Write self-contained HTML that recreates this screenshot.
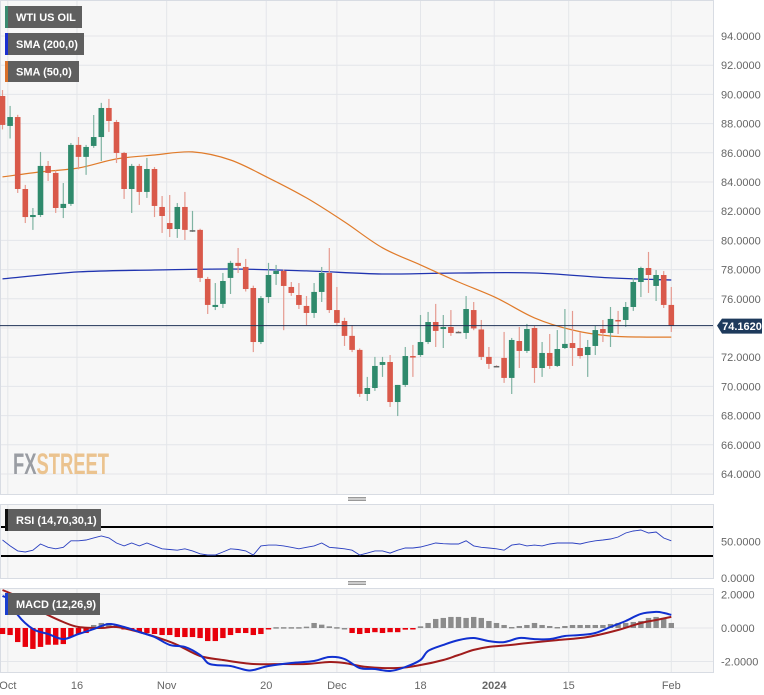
<!DOCTYPE html>
<html><head><meta charset="utf-8">
<style>
html,body{margin:0;padding:0;background:#fff;width:764px;height:695px;overflow:hidden}
svg{display:block;font-family:"Liberation Sans",sans-serif}
</style></head>
<body>
<svg id="chart" width="764" height="695" viewBox="0 0 764 695"></svg>
<script>
// ---- data ----
const dateLabels = ["Oct","16","Nov","20","Dec","18","2024","15","Feb"];
const dateLabelIdx = [0.7,9.8,21.6,34.7,44,55,64.7,74.5,88];
const opens  = [89.89,87.84,88.45,83.52,81.60,81.74,85.10,84.62,82.22,82.50,86.54,85.72,86.47,87.08,89.07,88.11,85.99,83.52,85.10,83.32,84.89,82.29,81.19,80.78,82.29,80.65,80.72,77.36,75.44,75.65,77.43,78.46,78.18,76.74,73.04,76.12,77.70,77.91,76.81,76.26,75.51,75.03,76.47,77.77,75.23,74.48,73.46,72.50,69.48,69.89,71.47,71.67,68.93,70.10,72.08,72.15,73.04,74.41,73.93,74.07,73.74,73.66,75.23,73.90,72.02,71.40,71.95,70.58,73.11,72.43,74.00,71.26,72.29,71.40,72.63,72.97,72.63,72.15,72.77,73.93,73.66,74.55,74.55,75.44,77.15,78.11,76.88,77.63,75.58];
const highs  = [90.30,89.21,88.60,83.80,82.22,86.06,85.44,84.80,83.93,86.67,87.08,86.54,88.59,89.42,89.69,88.25,86.06,85.24,85.24,85.65,85.03,83.04,83.11,82.56,83.32,82.02,80.80,77.50,77.08,77.77,78.60,79.48,78.73,76.90,76.19,78.46,78.32,78.00,77.15,77.08,76.19,77.08,78.18,79.48,76.81,74.70,74.20,72.60,70.65,72.02,72.02,72.15,70.10,72.70,72.84,74.89,75.10,75.65,74.89,75.23,73.80,76.19,75.78,74.55,72.70,71.45,73.73,73.32,74.07,74.28,74.14,73.04,73.59,73.86,75.30,75.17,73.73,73.18,74.14,74.55,75.44,75.17,75.78,77.43,78.20,79.21,77.97,77.90,76.81];
const lows   = [87.60,86.98,83.25,81.19,80.72,81.60,84.07,81.88,81.53,82.36,84.87,84.49,86.34,85.44,87.43,85.30,82.84,81.88,82.43,82.91,81.60,80.51,80.23,80.17,80.03,80.58,77.15,74.96,75.23,75.37,76.33,77.77,76.50,72.35,72.90,75.71,76.95,73.85,76.20,75.30,74.20,74.69,75.78,75.03,74.20,72.77,72.35,69.28,69.00,69.69,70.65,68.59,67.97,69.96,70.65,72.02,72.90,72.70,72.63,73.46,73.66,73.25,73.85,71.81,71.20,71.33,70.24,69.48,71.26,72.29,70.24,70.65,71.20,71.33,72.56,71.40,71.90,70.65,72.15,73.04,72.70,73.59,74.07,75.17,76.12,76.40,75.85,75.37,73.73];
const closes = [87.91,88.45,83.52,81.60,81.74,85.10,84.62,82.22,82.50,86.54,85.72,86.40,87.08,89.07,88.18,85.99,83.52,85.10,83.32,84.89,82.36,81.67,80.78,82.29,80.72,80.70,77.43,75.58,75.58,77.22,78.46,78.25,76.67,73.04,76.05,77.63,77.91,76.88,76.40,75.58,75.03,76.47,77.77,75.23,74.35,73.46,72.50,69.49,69.89,71.40,71.67,68.93,70.10,72.08,72.02,73.04,74.41,73.80,74.07,73.66,73.72,75.30,73.97,72.02,71.54,71.38,70.58,73.18,72.43,73.93,71.26,72.29,71.40,72.56,72.91,72.63,72.08,72.70,73.86,73.66,74.62,74.48,75.44,77.15,78.11,77.63,77.63,75.58,74.16];
const sma200Idx = [0,10,20,30,40,50,60,70,80,88];
const sma200 = [77.36,77.84,77.97,78.04,77.91,77.70,77.77,77.77,77.43,77.29];
const sma50Idx = [0,5,10,15,20,25,30,35,40,45,50,55,60,65,70,75,80,85,88];
const sma50 = [84.35,84.69,84.96,85.58,85.85,86.06,85.51,84.28,82.91,81.27,79.49,78.32,77.15,76.06,74.69,73.86,73.45,73.38,73.38];
const rsi = [52,44,37,35.5,38,46.5,42,40,42,51,51,52,55,57.6,55,48,44,48,44,48,44,40,39,38,40,37,33,31.4,31.4,35.5,40,39,37,31.4,44,45,45,44,42,40,42,44,48,42,41,40,38,31.4,34,37,37,34,38,41,41,42.4,45,48,47,46.5,46.5,51,44,42,41,40,38,45,46.5,44,45,44,46.5,48,48,48,46.5,49,51,52,53.4,56.2,61.7,64.5,65.9,61.7,63.1,54.8,51];
const macdIdx = [0,1,2,4,6,8,10,12,14,16,18,20,22,24,26,27,28,30,32,33,35,38,41,43,45,47,49,51,53,55,56,58,60,62,64,66,68,70,72,74,76,78,80,82,84,86,87,88];
const macd = [1.91,1.67,0.78,-0.06,-0.36,-0.66,-0.36,-0.06,0.24,0.06,-0.24,-0.54,-1.01,-1.13,-1.61,-2.09,-2.21,-2.27,-2.51,-2.51,-2.27,-2.09,-1.97,-1.73,-1.85,-2.39,-2.45,-2.57,-2.33,-1.91,-1.37,-1.01,-0.72,-0.6,-0.78,-0.84,-0.6,-0.66,-0.66,-0.48,-0.42,-0.3,0.06,0.42,0.84,0.96,0.9,0.78];
const signalIdx = [0,3,5,8,10,13,15,18,21,23,26,29,33,37,40,43,45,48,52,55,58,60,62,64,67,69,73,77,81,84,86,88];
const signal = [2.27,1.67,1.01,0.36,0.06,0,0.06,-0.24,-0.66,-1.01,-1.67,-1.91,-2.15,-2.15,-2.15,-2.03,-2.09,-2.33,-2.39,-2.21,-1.91,-1.61,-1.31,-1.13,-1.01,-0.9,-0.72,-0.54,-0.12,0.3,0.48,0.66];
const hist = [-0.36,-0.42,-0.84,-1.13,-1.25,-1.13,-1.0,-1.0,-0.96,-0.54,-0.36,-0.3,0.18,0.3,0.3,0.18,-0.06,-0.12,-0.24,-0.3,-0.36,-0.42,-0.42,-0.54,-0.54,-0.54,-0.6,-0.78,-0.78,-0.6,-0.42,-0.3,-0.3,-0.42,-0.36,-0.06,0.05,0.05,0.05,0.05,0.08,0.3,0.2,0.1,0.05,0.0,-0.3,-0.36,-0.3,-0.25,-0.3,-0.25,-0.25,-0.1,-0.02,0.1,0.3,0.54,0.6,0.66,0.66,0.6,0.66,0.6,0.42,0.3,0.18,0.06,0.12,0.18,0.3,0.18,0.12,0.06,0.12,0.18,0.18,0.18,0.18,0.18,0.24,0.3,0.3,0.36,0.42,0.6,0.66,0.6,0.3];
const priceTicks = [94,92,90,88,86,84,82,80,78,76,74,72,70,68,66,64];
const lastPrice = 74.162;

// ---- axes ----
const NS = "http://www.w3.org/2000/svg";
const svg = document.getElementById('chart');
const xOf = i => 2.5 + i * 7.6;
const yP = p => 36 + (94 - p) * 14.6;
const yR = v => 577.75 - v * 0.725;
const yM = v => 628 - v * 16.75;
function mk(tag, attrs, parent) {
  const e = document.createElementNS(NS, tag);
  for (const k in attrs) e.setAttribute(k, attrs[k]);
  (parent || svg).appendChild(e);
  return e;
}
const fmt = v => v.toFixed(4);

// panels
const p1 = mk('rect', {x:0.5,y:0.5,width:713,height:494,fill:'#f7f7f7',stroke:'#d8dce3'});
 
const p2 = mk('rect', {x:0.5,y:504.5,width:713,height:74,fill:'#f7f7f7',stroke:'#d8dce3'});
 
const p3 = mk('rect', {x:0.5,y:588.5,width:713,height:84,fill:'#f7f7f7',stroke:'#d8dce3'});
 

// grid
priceTicks.forEach(p => {
  const g = mk('line', {x1:1,x2:713,y1:yP(p),y2:yP(p),stroke:'#e4e6ea','stroke-width':1});
   
  const t = mk('text', {x:721,y:yP(p)+4,'font-size':11,fill:'#666'});
  t.textContent = fmt(p);
   
});
[2,0,-2].forEach(v => {
  const g = mk('line', {x1:1,x2:713,y1:yM(v),y2:yM(v),stroke:'#e4e6ea'});
   
  const t = mk('text', {x:721,y:yM(v)+4,'font-size':11,fill:'#666'});
  t.textContent = fmt(v);
   
});
[50,0].forEach(v => {
  const t = mk('text', {x:721,y:yR(v)+4,'font-size':11,fill:'#666'});
  t.textContent = fmt(v);
   
});
dateLabels.forEach((d, k) => {
  const x = xOf(dateLabelIdx[k]);
  [[1,494],[505,578],[589,672]].forEach(r => {
    const g = mk('line', {x1:x,x2:x,y1:r[0],y2:r[1],stroke:'#e4e6ea'});
     
  });
  const t = mk('text', {x:x,y:689,'font-size':11,fill:'#666','text-anchor':'middle','font-weight':d==='2024'?'bold':'normal'});
  t.textContent = d;
   
});

// watermark
const wm = mk('text', {x:13,y:474,'font-size':30,'font-weight':'bold','font-family':'Liberation Sans Narrow, Liberation Sans, sans-serif',textLength:96,lengthAdjust:'spacingAndGlyphs'});
 
const t1 = mk('tspan', {fill:'#9a9da3'}, wm); t1.textContent = 'FX';
const t2 = mk('tspan', {fill:'#ebc38f'}, wm); t2.textContent = 'STREET';

// smooth curve through points (Catmull-Rom -> cubic Bezier)
function pathFrom(idx, vals, yf) {
  const pts = idx.map((i, k) => [xOf(i), yf(vals[k])]);
  let d = 'M' + pts[0][0].toFixed(1) + ',' + pts[0][1].toFixed(1);
  for (let k = 0; k < pts.length - 1; k++) {
    const p0 = pts[Math.max(0, k - 1)], p1 = pts[k], p2 = pts[k + 1], p3 = pts[Math.min(pts.length - 1, k + 2)];
    const c1x = p1[0] + (p2[0] - p0[0]) / 6, c1y = p1[1] + (p2[1] - p0[1]) / 6;
    const c2x = p2[0] - (p3[0] - p1[0]) / 6, c2y = p2[1] - (p3[1] - p1[1]) / 6;
    d += ` C${c1x.toFixed(1)},${c1y.toFixed(1)} ${c2x.toFixed(1)},${c2y.toFixed(1)} ${p2[0].toFixed(1)},${p2[1].toFixed(1)}`;
  }
  return d;
}
const s200 = mk('path', {d:pathFrom(sma200Idx, sma200, yP),fill:'none',stroke:'#2034b0','stroke-width':1.3});
 
const s50 = mk('path', {d:pathFrom(sma50Idx, sma50, yP),fill:'none',stroke:'#e07b2a','stroke-width':1.2});
 

// candles
opens.forEach((o, i) => {
  const c = closes[i], up = c >= o, x = xOf(i);
  const col = Math.abs(c - o) < 0.05 ? '#666' : (up ? '#2f8a6c' : '#d9594a');
  const wcol = up ? '#7fb3a2' : '#e59a90';
  const w = mk('line', {x1:x,x2:x,y1:yP(highs[i]),y2:yP(lows[i]),stroke:wcol,'stroke-width':1.2});
   
  const top = yP(Math.max(o, c)), h = Math.max(1.5, Math.abs(yP(o) - yP(c)));
  const b = mk('rect', {x:x-2.8,y:top,width:5.6,height:h,fill:col});
   
});

// last price line & tag
const lp = mk('line', {x1:0,x2:713,y1:yP(lastPrice),y2:yP(lastPrice),stroke:'#1e3256','stroke-width':1});
 
const tag = mk('path', {d:`M717,${yP(lastPrice)} L722,${yP(lastPrice)-7} L762,${yP(lastPrice)-7} L762,${yP(lastPrice)+8} L722,${yP(lastPrice)+8} Z`,fill:'#1e3a5c'});
 
const tt = mk('text', {x:742,y:yP(lastPrice)+4.5,'font-size':11,'font-weight':'bold',fill:'#fff','text-anchor':'middle'});
tt.textContent = lastPrice.toFixed(4);
 

// RSI
[70,30].forEach(v => {
  const l = mk('line', {x1:1,x2:713,y1:yR(v),y2:yR(v),stroke:'#000','stroke-width':2});
   
});
const rsiPath = mk('path', {d:rsi.map((v,i)=>(i?'L':'M')+xOf(i).toFixed(1)+','+yR(v).toFixed(1)).join(' '),fill:'none',stroke:'#2a3fc0','stroke-width':0.9});
 

// MACD histogram
hist.forEach((v, i) => {
  const y0 = yM(0), y1 = yM(v);
  const r = mk('rect', {x:xOf(i)-2.7,y:Math.min(y0,y1),width:5.4,height:Math.max(1.5,Math.abs(y1-y0)),fill:v<0?'#e8000b':'#8c8c8c'});
   
});
const sig = mk('path', {d:pathFrom(signalIdx, signal, yM),fill:'none',stroke:'#a01c1c','stroke-width':2});
 
const mac = mk('path', {d:pathFrom(macdIdx, macd, yM),fill:'none',stroke:'#1030d0','stroke-width':2});
 

// panel resize handles
[499,583].forEach(y => {
  const g = mk('g', {});
   
  [-1.5,0,1.5].forEach(d => mk('line', {x1:348,x2:366,y1:y+d,y2:y+d,stroke:'#777','stroke-width':0.8}, g));
});

// legend boxes
function legend(x, y, w, h, color, text, name) {
  const g = mk('g', {});
   
  mk('rect', {x:x,y:y,width:w,height:h,fill:'#5f5f5f'}, g);
  mk('rect', {x:x,y:y,width:3,height:h,fill:color}, g);
  const t = mk('text', {x:x+11,y:y+h/2+4,'font-size':11,'font-weight':'bold',fill:'#fff'}, g);
  t.textContent = text;
}
legend(5,6,77,22,'#3a8a70','WTI US OIL','legend-wti-us-oil');
legend(5,33,79,22,'#1a2fd0','SMA (200,0)','legend-sma-200');
legend(5,61,74,21,'#d9702a','SMA (50,0)','legend-sma-50');
legend(5,509,96,22,'#111','RSI (14,70,30,1)','legend-rsi');
legend(5,593,95,22,'#1a3fd0','MACD (12,26,9)','legend-macd');
</script>
</body></html>
